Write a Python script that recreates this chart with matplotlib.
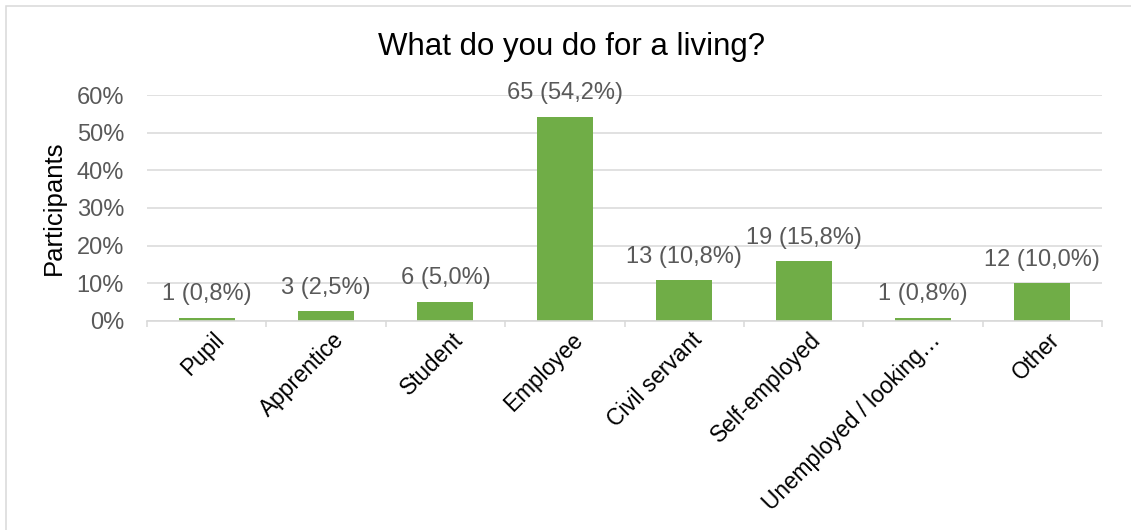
import matplotlib
matplotlib.use("Agg")
import matplotlib.pyplot as plt
from matplotlib.patches import Rectangle
from matplotlib.transforms import ScaledTranslation

plt.rcParams['font.family'] = ['Liberation Sans', 'DejaVu Sans']

# survey answers: occupation
categories = ['Pupil', 'Apprentice', 'Student', 'Employee', 'Civil servant',
              'Self-employed', 'Unemployed / looking\u2026', 'Other']
counts = [1, 3, 6, 65, 13, 19, 1, 12]
percents = [0.8, 2.5, 5.0, 54.2, 10.8, 15.8, 0.8, 10.0]
yticks = [0, 10, 20, 30, 40, 50, 60]

GREEN = '#70AD47'
GRID = '#D9D9D9'
GREY_TXT = '#595959'

W, H = 1131, 530
fig = plt.figure(figsize=(W / 100, H / 100), dpi=100)

# outer chart frame
fig.patches.append(Rectangle((5.5 / W, -0.05), 1.2, 1 - 5.5 / H + 0.05,
                             transform=fig.transFigure, fill=False,
                             edgecolor=GRID, linewidth=1.1))

ax = fig.add_axes([147 / W, 1 - 320.7 / H, (1102 - 147) / W, (320.7 - 95.3) / H])

x = list(range(len(categories)))
ax.bar(x, percents, width=0.47, color=GREEN, zorder=3)

for i, (c, p) in enumerate(zip(counts, percents)):
    txt = f"{c} ({p:.1f}%)".replace('.', ',')
    ax.annotate(txt, (i, p), xytext=(0, 17), textcoords='offset points',
                ha='center', va='center', fontsize=17, color=GREY_TXT)

ax.set_xlim(-0.5, len(categories) - 0.5)
ax.set_ylim(0, 60)
ax.set_yticks(yticks)
ax.set_yticklabels([f"{t}%" for t in yticks])
ax.tick_params(axis='y', length=0, pad=16.5, labelsize=17, labelcolor=GREY_TXT)

ax.yaxis.grid(True, color=GRID, linewidth=1.1, zorder=0)
ax.set_axisbelow(True)
for s in ['top', 'right', 'left']:
    ax.spines[s].set_visible(False)
ax.spines['bottom'].set_color(GRID)
ax.spines['bottom'].set_linewidth(1.2)
ax.spines['bottom'].set_zorder(4)

# category boundary ticks
ax.set_xticks([i - 0.5 for i in range(len(categories) + 1)], minor=True)
ax.tick_params(axis='x', which='minor', length=4.5, width=1.1, color=GRID)
ax.set_xticks(x)
ax.set_xticklabels(categories, rotation=45, ha='right', va='top',
                   rotation_mode='anchor', fontsize=16.3, color='black')
ax.tick_params(axis='x', which='major', length=0, pad=5.5)
shift = ScaledTranslation(6 / 100, 0, fig.dpi_scale_trans)
for lbl in ax.get_xticklabels():
    lbl.set_transform(lbl.get_transform() + shift)

fig.text(571 / W, 1 - 55 / H, 'What do you do for a living?', ha='center',
         va='baseline', fontsize=22.5, color='black')
fig.text(54 / W, 1 - 208 / H, 'Participants', rotation=90, ha='center',
         va='center', fontsize=18.5, color='black')

fig.savefig('out.png', dpi=100, facecolor='white')
